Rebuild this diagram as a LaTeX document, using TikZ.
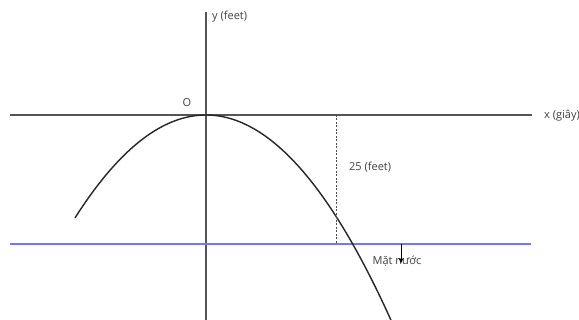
\documentclass[tikz,border=0pt]{standalone}
\usepackage{fontspec}
\setmainfont{Open Sans}
\usetikzlibrary{arrows.meta}
\definecolor{axisgray}{HTML}{555555}
\definecolor{waterblue}{HTML}{7777F5}
\tikzset{
  axisline/.style={draw=axisgray, line width=1.1pt},
  waterline/.style={draw=waterblue, line width=1.4pt},
  curveline/.style={draw=black!85, line width=1.4pt},
  dimline/.style={draw=black!70, line width=0.6pt, dash pattern=on 2pt off 1.5pt},
  lbl/.style={font=\fontsize{11pt}{13pt}\selectfont, text=black!75, inner sep=0pt}
}
\begin{document}
\begin{tikzpicture}[x=1pt,y=-1pt]
\useasboundingbox[fill=white] (0,0) rectangle (579,320);
% axes
\coordinate (xl) at (10,115);
\coordinate (xr) at (532,115);
\coordinate (yt) at (206,12);
\coordinate (yb) at (206,322);
\draw[axisline] (xl) -- (xr);
\draw[axisline] (yt) -- (yb);
% water surface
\coordinate (wl) at (10,244);
\coordinate (wr) at (531,244);
\draw[waterline] (wl) -- (wr);
% parabola
\draw[curveline, domain=75:392, samples=80, smooth] plot ({\x},{115+0.006*(\x-206)*(\x-206)});
% dashed depth
\coordinate (dt) at (336,115);
\coordinate (db) at (336,244);
\draw[dimline] (dt) -- (db);
% labels
\node[lbl, anchor=west] (ylab) at (212,17) {y (feet)};
\node[lbl, anchor=west] (xlab) at (544,116) {x (giây)};
\node[lbl] (olab) at (187,103) {O};
\node[lbl, anchor=west] (dlab) at (349,167) {25 (feet)};
\node[lbl] (wlab) at (397,261) {Mặt nước};
% arrow
\coordinate (as) at (401,244);
\coordinate (ae) at (401,263);
\draw[black, line width=0.8pt, -{Stealth[length=5pt,width=5pt]}] (as) -- (ae);
\end{tikzpicture}
\end{document}
